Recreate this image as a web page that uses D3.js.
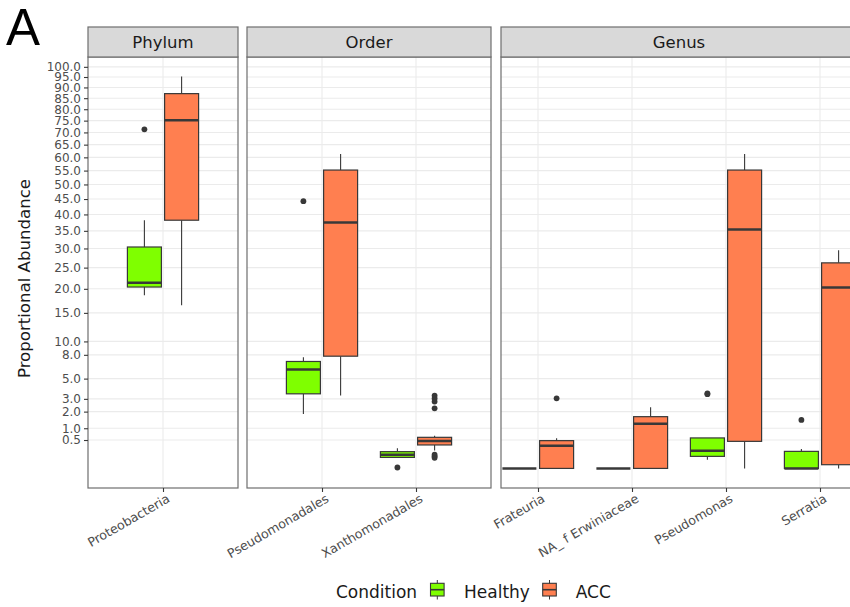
<!DOCTYPE html>
<html>
<head>
<meta charset="utf-8">
<script src="https://cdn.jsdelivr.net/npm/d3@7"></script>
<style>
  body { margin: 0; background: #ffffff; }
  svg { display: block; font-family: "DejaVu Sans", sans-serif; }
</style>
</head>
<body>
<svg id="chart" width="850" height="607"></svg>
<script>
// ---- data ---------------------------------------------------------------
const facetNames = ["Phylum", "Order", "Genus"];
const phylumTaxa = ["Proteobacteria"];
const orderTaxa = ["Pseudomonadales", "Xanthomonadales"];
const genusTaxa = ["Frateuria", "NA_ f Erwiniaceae", "Pseudomonas", "Serratia"];
const conditions = ["Healthy", "ACC"];
const conditionColors = ["#7FFF00", "#FF7F50"];

// per taxon, in the order Phylum, Order, Genus:
// [lower whisker, Q1, median, Q3, upper whisker]
const healthyStats = [
  [18.6, 20.4, 21.4, 30.4, 38.2],
  [1.84, 3.45, 6.07, 7.09, 7.67],
  [0.075, 0.075, 0.117, 0.174, 0.249],
  [0, 0, 0, 0, 0],
  [0, 0, 0, 0, 0],
  [0.047, 0.09, 0.195, 0.576, 0.576],
  [0, 0, 0, 0.18, 0.234]
];
const healthyOutliers = [[71.3], [44.3], [0.0005], [], [], [3.5, 3.42], [1.46]];

const accStats = [
  [16.5, 38.2, 75.2, 87.1, 95.2],
  [3.29, 7.81, 37.5, 55.2, 61.3],
  [0.2, 0.341, 0.468, 0.599, 0.666],
  [0, 0, 0.321, 0.478, 0.561],
  [0, 0, 1.23, 1.66, 2.32],
  [0, 0.454, 35.4, 55.2, 61.3],
  [0, 0.0085, 20.3, 26.2, 29.5]
];
const accOutliers = [[], [], [3.29, 3.03, 2.77, 2.24, 0.117, 0.09, 0.07], [3.05], [], [], []];

const yTicks = [0.5, 1, 2, 3, 5, 8, 10, 15, 20, 25, 30, 35, 40, 45, 50, 55, 60,
                65, 70, 75, 80, 85, 90, 95, 100];

// ---- layout -------------------------------------------------------------
const svg = d3.select("#chart");
const facetTaxa = [phylumTaxa, orderTaxa, genusTaxa];
const allTaxa = [].concat(phylumTaxa, orderTaxa, genusTaxa);
const statsByCondition = [healthyStats, accStats];
const outliersByCondition = [healthyOutliers, accOutliers];

const panelX = [[88, 238], [247, 491], [501, 857]];
const panelTop = 57, panelBottom = 488, stripTop = 27;
const catStep = 94;
const borderColor = "#6e6e6e";
const inkColor = "#383838";

// square-root scale with 5% expansion of the transformed range
const dataMax = d3.max(accStats.concat(healthyStats), d => d[4]);
const sMax = Math.sqrt(dataMax);
const yT = d3.scaleLinear()
  .domain([-0.05 * sMax, 1.05 * sMax])
  .range([panelBottom, panelTop]);
const y = v => yT(Math.sqrt(v));

// dodge within each category
const dodge = d3.scaleBand()
  .domain(conditions)
  .range([-35.6, 35.6])
  .paddingInner(0.086)
  .paddingOuter(0);
const boxW = dodge.bandwidth();

facetNames.forEach((name, fi) => {
  const [x0, x1] = panelX[fi];
  const cats = facetTaxa[fi];
  const pad = ((x1 - x0) / catStep - (cats.length - 1)) / 2;
  const x = d3.scalePoint().domain(cats).range([x0, x1]).padding(pad);

  const g = svg.append("g");

  // panel background + grid
  g.append("rect").attr("x", x0).attr("y", panelTop)
    .attr("width", x1 - x0).attr("height", panelBottom - panelTop)
    .attr("fill", "#ffffff");
  g.selectAll(".hgrid").data(yTicks).join("line")
    .attr("x1", x0).attr("x2", x1)
    .attr("y1", d => y(d)).attr("y2", d => y(d))
    .attr("stroke", "#ebebeb").attr("stroke-width", 1.1);
  g.selectAll(".vgrid").data(cats).join("line")
    .attr("x1", d => x(d)).attr("x2", d => x(d))
    .attr("y1", panelTop).attr("y2", panelBottom)
    .attr("stroke", "#ebebeb").attr("stroke-width", 1.1);

  // boxplots
  cats.forEach(cat => {
    const ti = allTaxa.indexOf(cat);
    conditions.forEach((cond, ci) => {
      const [lo, q1, med, q3, hi] = statsByCondition[ci][ti];
      const cx = x(cat) + dodge(cond) + boxW / 2;
      const bg = g.append("g");
      bg.append("line").attr("x1", cx).attr("x2", cx)
        .attr("y1", y(hi)).attr("y2", y(q3))
        .attr("stroke", inkColor).attr("stroke-width", 1.1);
      bg.append("line").attr("x1", cx).attr("x2", cx)
        .attr("y1", y(q1)).attr("y2", y(lo))
        .attr("stroke", inkColor).attr("stroke-width", 1.1);
      bg.append("rect")
        .attr("x", cx - boxW / 2).attr("y", y(q3))
        .attr("width", boxW).attr("height", Math.max(0, y(q1) - y(q3)))
        .attr("fill", conditionColors[ci])
        .attr("stroke", inkColor).attr("stroke-width", 1.2);
      bg.append("line")
        .attr("x1", cx - boxW / 2).attr("x2", cx + boxW / 2)
        .attr("y1", y(med)).attr("y2", y(med))
        .attr("stroke", inkColor).attr("stroke-width", 2.5);
      bg.selectAll("circle").data(outliersByCondition[ci][ti]).join("circle")
        .attr("cx", cx).attr("cy", d => y(d)).attr("r", 2.9)
        .attr("fill", inkColor);
    });
  });

  // panel border
  g.append("rect").attr("x", x0).attr("y", panelTop)
    .attr("width", x1 - x0).attr("height", panelBottom - panelTop)
    .attr("fill", "none").attr("stroke", borderColor).attr("stroke-width", 1.2);

  // strip
  g.append("rect").attr("x", x0).attr("y", stripTop)
    .attr("width", x1 - x0).attr("height", panelTop - stripTop)
    .attr("fill", "#d9d9d9").attr("stroke", borderColor).attr("stroke-width", 1.2);
  g.append("text").attr("x", (x0 + x1) / 2).attr("y", 48.3)
    .attr("text-anchor", "middle").attr("font-size", 16.5)
    .attr("fill", "#1a1a1a").text(name);

  // x axis
  const xa = g.append("g").attr("transform", `translate(0,${panelBottom})`)
    .call(d3.axisBottom(x).tickSize(4).tickFormat(""));
  xa.select(".domain").remove();
  xa.selectAll(".tick line").attr("stroke", inkColor).attr("stroke-width", 1.1);
  g.selectAll(".xlab").data(cats).join("text")
    .attr("transform", d => `translate(${x(d) + 3},${panelBottom + 5}) rotate(-30)`)
    .attr("text-anchor", "end").attr("dy", "0.75em")
    .attr("font-size", 12.6).attr("fill", "#4d4d4d")
    .text(d => d);
});

// y axis (left of the first panel)
const yAxis = svg.append("g").attr("transform", `translate(${panelX[0][0]},0)`)
  .call(d3.axisLeft(yT)
    .tickValues(yTicks.map(Math.sqrt))
    .tickSize(4).tickPadding(3)
    .tickFormat(d => (d * d).toFixed(1)));
yAxis.select(".domain").remove();
yAxis.selectAll(".tick line").attr("stroke", inkColor).attr("stroke-width", 1.1);
yAxis.selectAll(".tick text").attr("font-size", 12).attr("fill", "#4d4d4d")
  .attr("font-family", "DejaVu Sans, sans-serif");

svg.append("text")
  .attr("transform", `translate(30,${(panelTop + panelBottom) / 2 + 6}) rotate(-90)`)
  .attr("text-anchor", "middle").attr("font-size", 16.6).attr("fill", "#1a1a1a")
  .text("Proportional Abundance");

// panel tag
svg.append("text").attr("x", 6).attr("y", 45)
  .attr("font-family", "Liberation Sans, Arial, sans-serif")
  .attr("font-size", 51).attr("fill", "#000").text("A");

// legend
const legend = svg.append("g");
legend.append("text").attr("x", 336).attr("y", 598.3)
  .attr("font-size", 17).attr("fill", "#1a1a1a").text("Condition");
const keyX = [430.5, 542.7];
const labelX = [464, 575.7];
conditions.forEach((cond, ci) => {
  const kx = keyX[ci], kc = kx + 6.8;
  legend.append("line").attr("x1", kc).attr("x2", kc).attr("y1", 580).attr("y2", 599.5)
    .attr("stroke", inkColor).attr("stroke-width", 1);
  legend.append("rect").attr("x", kx).attr("y", 583.3).attr("width", 13.6).attr("height", 12.7)
    .attr("fill", conditionColors[ci]).attr("stroke", inkColor).attr("stroke-width", 1.1);
  legend.append("line").attr("x1", kx).attr("x2", kx + 13.6).attr("y1", 589.7).attr("y2", 589.7)
    .attr("stroke", inkColor).attr("stroke-width", 1.6);
  legend.append("text").attr("x", labelX[ci]).attr("y", 598.3)
    .attr("font-size", 17).attr("fill", "#1a1a1a").text(cond);
});
</script>
</body>
</html>
